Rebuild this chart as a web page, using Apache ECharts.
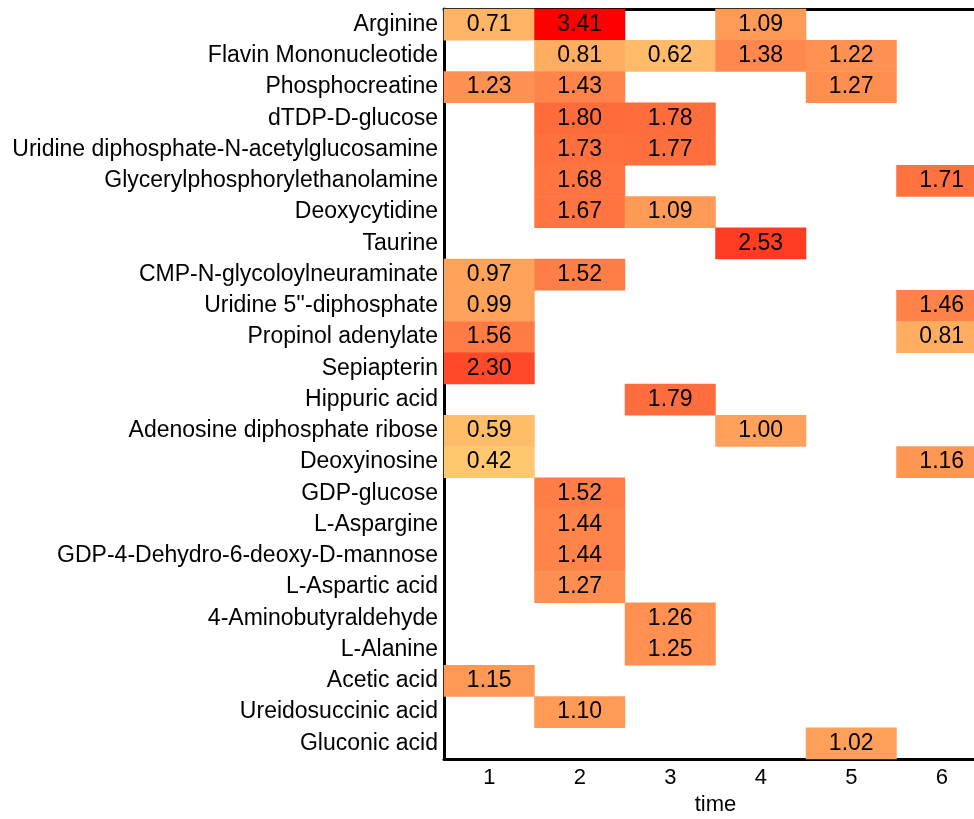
<!DOCTYPE html>
<html>
<head>
<meta charset="utf-8">
<script src="https://cdn.jsdelivr.net/npm/echarts@6/dist/echarts.min.js"></script>
<style>html,body{margin:0;padding:0;background:#fff;}#c{width:974px;height:819px;}</style>
</head>
<body>
<div id="c"></div>
<script>
var timeLabels = ['1','2','3','4','5','6'];
var compounds = ['Arginine','Flavin Mononucleotide','Phosphocreatine','dTDP-D-glucose','Uridine diphosphate-N-acetylglucosamine','Glycerylphosphorylethanolamine','Deoxycytidine','Taurine','CMP-N-glycoloylneuraminate','Uridine 5\'\'-diphosphate','Propinol adenylate','Sepiapterin','Hippuric acid','Adenosine diphosphate ribose','Deoxyinosine','GDP-glucose','L-Aspargine','GDP-4-Dehydro-6-deoxy-D-mannose','L-Aspartic acid','4-Aminobutyraldehyde','L-Alanine','Acetic acid','Ureidosuccinic acid','Gluconic acid'];
// values per compound for time 1..6 (null = empty)
var t1 = [0.71,null,1.23,null,null,null,null,null,0.97,0.99,1.56,2.30,null,0.59,0.42,null,null,null,null,null,null,1.15,null,null];
var t2 = [3.41,0.81,1.43,1.80,1.73,1.68,1.67,null,1.52,null,null,null,null,null,null,1.52,1.44,1.44,1.27,null,null,null,1.10,null];
var t3 = [null,0.62,null,1.78,1.77,null,1.09,null,null,null,null,null,1.79,null,null,null,null,null,null,1.26,1.25,null,null,null];
var t4 = [1.09,1.38,null,null,null,null,null,2.53,null,null,null,null,null,1.00,null,null,null,null,null,null,null,null,null,null];
var t5 = [null,1.22,1.27,null,null,null,null,null,null,null,null,null,null,null,null,null,null,null,null,null,null,null,null,1.02];
var t6 = [null,null,null,null,null,1.71,null,null,null,1.46,0.81,null,null,null,1.16,null,null,null,null,null,null,null,null,null];

var cols = [t1,t2,t3,t4,t5,t6];
var data = [];
cols.forEach(function(col, xi){
  col.forEach(function(v, yi){
    if (v !== null) data.push([xi, yi, v]);
  });
});

var font = '"Liberation Sans", Arial, sans-serif';
var chart = echarts.init(document.getElementById('c'));
chart.setOption({
  animation: false,
  grid: {left: 444, width: 543, top: 9, height: 750, containLabel: false, outerBoundsMode: 'none'},
  xAxis: [{
    type: 'category', data: timeLabels, position: 'bottom',
    name: 'time', nameLocation: 'middle', nameGap: 35,
    nameTextStyle: {fontFamily: font, fontSize: 22, color: '#000'},
    axisLine: {lineStyle: {color: '#000', width: 3}},
    axisTick: {show: false},
    axisLabel: {fontFamily: font, fontSize: 22, color: '#000', margin: 8},
    splitLine: {show: false}
  }, {
    type: 'category', data: timeLabels, position: 'top',
    axisLine: {lineStyle: {color: '#000', width: 3}},
    axisTick: {show: false}, axisLabel: {show: false}, splitLine: {show: false}
  }],
  yAxis: {
    type: 'category', data: compounds, inverse: true,
    axisLine: {lineStyle: {color: '#000', width: 3}},
    axisTick: {show: false},
    axisLabel: {fontFamily: font, fontSize: 23, color: '#000', margin: 6},
    splitLine: {show: false}
  },
  visualMap: {
    show: false, type: 'continuous', min: 0.42, max: 3.41, dimension: 2,
    inRange: {color: ['#ffc870', '#ff0000']}
  },
  series: [{
    type: 'heatmap', data: data, xAxisIndex: 0,
    label: {show: true, fontFamily: font, fontSize: 23, color: '#000',
      formatter: function(p){ return p.value[2].toFixed(2); }},
    itemStyle: {borderWidth: 0}
  }]
});
</script>
</body>
</html>
